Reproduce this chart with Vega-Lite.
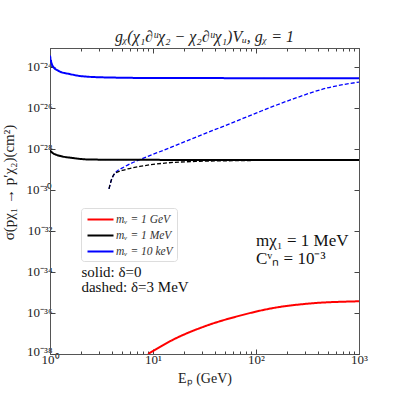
{
  "$schema": "https://vega.github.io/schema/vega-lite/v6.json",
  "width": 309,
  "height": 306,
  "autosize": {"type": "none"},
  "padding": {"left": 50, "top": 48, "right": 40, "bottom": 45},
  "background": "white",
  "config": {
    "font": "Liberation Serif",
    "view": {"stroke": "#555", "strokeWidth": 1},
    "axis": {"domainColor": "#555", "tickColor": "#444", "labelColor": "#222", "titleColor": "#222", "labelFont": "Liberation Serif", "titleFont": "Liberation Serif", "titleFontWeight": "normal", "grid": false, "labelFontSize": 13, "titleFontSize": 14}
  },
  "title": {"text": "gᵪ(χ₁∂ᵘχ₂ − χ₂∂ᵘχ₁)Vᵤ, gᵪ = 1", "fontSize": 16, "fontWeight": "normal", "fontStyle": "italic", "font": "Liberation Serif", "offset": 3, "color": "#222"},
  "datasets": {
    "curves": [
      {"Ep": 1.0, "sigma": 3.47e-24, "mV": "mᵥ = 10 keV", "delta": "0"},
      {"Ep": 1.02, "sigma": 1.95e-24, "mV": "mᵥ = 10 keV", "delta": "0"},
      {"Ep": 1.07, "sigma": 1.02e-24, "mV": "mᵥ = 10 keV", "delta": "0"},
      {"Ep": 1.24, "sigma": 5.9e-25, "mV": "mᵥ = 10 keV", "delta": "0"},
      {"Ep": 1.55, "sigma": 4.4e-25, "mV": "mᵥ = 10 keV", "delta": "0"},
      {"Ep": 2.08, "sigma": 3.4e-25, "mV": "mᵥ = 10 keV", "delta": "0"},
      {"Ep": 3.53, "sigma": 3.0e-25, "mV": "mᵥ = 10 keV", "delta": "0"},
      {"Ep": 11.6, "sigma": 2.8e-25, "mV": "mᵥ = 10 keV", "delta": "0"},
      {"Ep": 1000, "sigma": 2.75e-25, "mV": "mᵥ = 10 keV", "delta": "0"},
      {"Ep": 3.74, "sigma": 1.12e-30, "mV": "mᵥ = 10 keV", "delta": "3"},
      {"Ep": 3.95, "sigma": 3.09e-30, "mV": "mᵥ = 10 keV", "delta": "3"},
      {"Ep": 4.25, "sigma": 6.2e-30, "mV": "mᵥ = 10 keV", "delta": "3"},
      {"Ep": 5.32, "sigma": 1.35e-29, "mV": "mᵥ = 10 keV", "delta": "3"},
      {"Ep": 7.45, "sigma": 2.95e-29, "mV": "mᵥ = 10 keV", "delta": "3"},
      {"Ep": 14.6, "sigma": 1.12e-28, "mV": "mᵥ = 10 keV", "delta": "3"},
      {"Ep": 28.5, "sigma": 4.4e-28, "mV": "mᵥ = 10 keV", "delta": "3"},
      {"Ep": 55.7, "sigma": 1.66e-27, "mV": "mᵥ = 10 keV", "delta": "3"},
      {"Ep": 109, "sigma": 6.5e-27, "mV": "mᵥ = 10 keV", "delta": "3"},
      {"Ep": 230, "sigma": 2.7e-26, "mV": "mᵥ = 10 keV", "delta": "3"},
      {"Ep": 486, "sigma": 9.1e-26, "mV": "mᵥ = 10 keV", "delta": "3"},
      {"Ep": 1000, "sigma": 1.78e-25, "mV": "mᵥ = 10 keV", "delta": "3"},
      {"Ep": 1.0, "sigma": 8.3e-29, "mV": "mᵥ = 1 MeV", "delta": "0"},
      {"Ep": 1.05, "sigma": 6.5e-29, "mV": "mᵥ = 1 MeV", "delta": "0"},
      {"Ep": 1.15, "sigma": 5.1e-29, "mV": "mᵥ = 1 MeV", "delta": "0"},
      {"Ep": 1.67, "sigma": 3.55e-29, "mV": "mᵥ = 1 MeV", "delta": "0"},
      {"Ep": 2.43, "sigma": 3.0e-29, "mV": "mᵥ = 1 MeV", "delta": "0"},
      {"Ep": 5.95, "sigma": 2.9e-29, "mV": "mᵥ = 1 MeV", "delta": "0"},
      {"Ep": 1000, "sigma": 2.82e-29, "mV": "mᵥ = 1 MeV", "delta": "0"},
      {"Ep": 3.74, "sigma": 1.12e-30, "mV": "mᵥ = 1 MeV", "delta": "3"},
      {"Ep": 3.95, "sigma": 3.09e-30, "mV": "mᵥ = 1 MeV", "delta": "3"},
      {"Ep": 4.25, "sigma": 6.2e-30, "mV": "mᵥ = 1 MeV", "delta": "3"},
      {"Ep": 5.32, "sigma": 9.5e-30, "mV": "mᵥ = 1 MeV", "delta": "3"},
      {"Ep": 7.45, "sigma": 1.38e-29, "mV": "mᵥ = 1 MeV", "delta": "3"},
      {"Ep": 13.6, "sigma": 2.04e-29, "mV": "mᵥ = 1 MeV", "delta": "3"},
      {"Ep": 28.5, "sigma": 2.45e-29, "mV": "mᵥ = 1 MeV", "delta": "3"},
      {"Ep": 60, "sigma": 2.63e-29, "mV": "mᵥ = 1 MeV", "delta": "3"},
      {"Ep": 200, "sigma": 2.75e-29, "mV": "mᵥ = 1 MeV", "delta": "3"},
      {"Ep": 1000, "sigma": 2.8e-29, "mV": "mᵥ = 1 MeV", "delta": "3"},
      {"Ep": 8.96, "sigma": 1.0e-38, "mV": "mᵥ = 1 GeV", "delta": "0"},
      {"Ep": 15.7, "sigma": 5.0e-38, "mV": "mᵥ = 1 GeV", "delta": "0"},
      {"Ep": 33.1, "sigma": 2.4e-37, "mV": "mᵥ = 1 GeV", "delta": "0"},
      {"Ep": 69.8, "sigma": 7.4e-37, "mV": "mᵥ = 1 GeV", "delta": "0"},
      {"Ep": 147, "sigma": 1.74e-36, "mV": "mᵥ = 1 GeV", "delta": "0"},
      {"Ep": 309, "sigma": 2.8e-36, "mV": "mᵥ = 1 GeV", "delta": "0"},
      {"Ep": 1000, "sigma": 3.7e-36, "mV": "mᵥ = 1 GeV", "delta": "0"}
    ],
    "notes": [
      {"label": "solid: δ=0", "Ep": 2.02, "sigma": 5.9e-35, "group": "small"},
      {"label": "dashed: δ=3 MeV", "Ep": 2.02, "sigma": 1.1e-35, "group": "small"},
      {"label": "mχ₁ = 1 MeV", "Ep": 100, "sigma": 1.74e-33, "group": "big"},
      {"label": "Cᵛₙ = 10⁻³", "Ep": 100, "sigma": 2.5e-34, "group": "big"}
    ]
  },
  "resolve": {"axis": {"x": "independent", "y": "independent"}},
  "layer": [
    {
      "data": {"name": "curves"},
      "mark": {"type": "line", "interpolate": "monotone", "clip": true},
      "encoding": {
        "x": {
          "field": "Ep", "type": "quantitative",
          "scale": {"type": "log", "domain": [1, 1000], "nice": false},
          "axis": {
            "orient": "bottom",
            "title": "Eₚ (GeV)",
            "titlePadding": 3,
            "values": [1,2,3,4,5,6,7,8,9,10,20,30,40,50,60,70,80,90,100,200,300,400,500,600,700,800,900,1000],
            "labelExpr": "datum.value==1?'10⁰':datum.value==10?'10¹':datum.value==100?'10²':datum.value==1000?'10³':''",
            "labelFlush": false,
            "labelOverlap": false,
            "labelPadding": 4,
            "tickSize": {"condition": {"test": "datum.value==1||datum.value==10||datum.value==100||datum.value==1000", "value": -5}, "value": -3}
          }
        },
        "y": {
          "field": "sigma", "type": "quantitative",
          "scale": {"type": "log", "domain": [1e-38, 8.15e-24], "nice": false},
          "axis": {
            "orient": "left",
            "title": "σ(pχ₁ → p′χ₂)(cm²)",
            "titleX": -34,
            "titleY": 134,
            "titleFontSize": 15,
            "values": [1e-38, 1e-36, 1e-34, 1e-32, 1e-30, 1e-28, 1e-26, 1e-24],
            "labelExpr": "round(log(datum.value)/LN10)==-38?'10⁻³⁸':round(log(datum.value)/LN10)==-36?'10⁻³⁶':round(log(datum.value)/LN10)==-34?'10⁻³⁴':round(log(datum.value)/LN10)==-32?'10⁻³²':round(log(datum.value)/LN10)==-30?'10⁻³⁰':round(log(datum.value)/LN10)==-28?'10⁻²⁸':round(log(datum.value)/LN10)==-26?'10⁻²⁶':'10⁻²⁴'",
            "labelOverlap": false,
            "labelFlush": false,
            "labelPadding": 3,
            "labelOffset": {"condition": {"test": "datum.value < 1e-37", "value": -3}, "value": 0},
            "tickSize": -5
          }
        },
        "color": {
          "field": "mV", "type": "nominal",
          "scale": {"domain": ["mᵥ = 1 GeV", "mᵥ = 1 MeV", "mᵥ = 10 keV"], "range": ["#ff0000", "#000000", "#0000ff"]},
          "legend": {
            "title": null,
            "orient": "none",
            "legendX": 31,
            "legendY": 160,
            "symbolType": "M-2,0H2",
            "symbolSize": 169,
            "symbolStrokeWidth": 2,
            "symbolOffset": 8,
            "labelOffset": 8,
            "labelFontSize": 11.5,
            "labelFontStyle": "italic",
            "labelFont": "Liberation Serif",
            "labelColor": "#333",
            "rowPadding": 3,
            "padding": 4,
            "strokeColor": "#ddd",
            "cornerRadius": 3,
            "fillColor": "white"
          }
        },
        "strokeDash": {
          "field": "delta", "type": "nominal",
          "scale": {"domain": ["0", "3"], "range": [[1, 0], [4, 2]]},
          "legend": null
        },
        "strokeWidth": {
          "field": "delta", "type": "nominal",
          "scale": {"domain": ["0", "3"], "range": [2, 1.3]},
          "legend": null
        },
        "detail": {"field": "delta"}
      }
    },
    {
      "data": {"name": "curves"},
      "mark": {"type": "point", "opacity": 0},
      "encoding": {
        "x": {
          "field": "Ep", "type": "quantitative",
          "axis": {
            "orient": "top", "title": null, "labels": false, "domainColor": "#555",
            "values": [1,2,3,4,5,6,7,8,9,10,20,30,40,50,60,70,80,90,100,200,300,400,500,600,700,800,900,1000],
            "tickSize": {"condition": {"test": "datum.value==1||datum.value==10||datum.value==100||datum.value==1000", "value": -5}, "value": -3}
          }
        },
        "y": {
          "field": "sigma", "type": "quantitative",
          "axis": {
            "orient": "right", "title": null, "labels": false,
            "values": [1e-38, 1e-36, 1e-34, 1e-32, 1e-30, 1e-28, 1e-26, 1e-24],
            "tickSize": -5
          }
        }
      }
    },
    {
      "data": {"name": "notes"},
      "mark": {"type": "text", "align": "left", "baseline": "alphabetic", "font": "Liberation Serif", "color": "#111"},
      "encoding": {
        "x": {"field": "Ep", "type": "quantitative", "axis": null},
        "y": {"field": "sigma", "type": "quantitative", "axis": null},
        "text": {"field": "label"},
        "size": {"field": "group", "type": "nominal", "scale": {"domain": ["small", "big"], "range": [15, 17]}, "legend": null}
      }
    }
  ]
}
